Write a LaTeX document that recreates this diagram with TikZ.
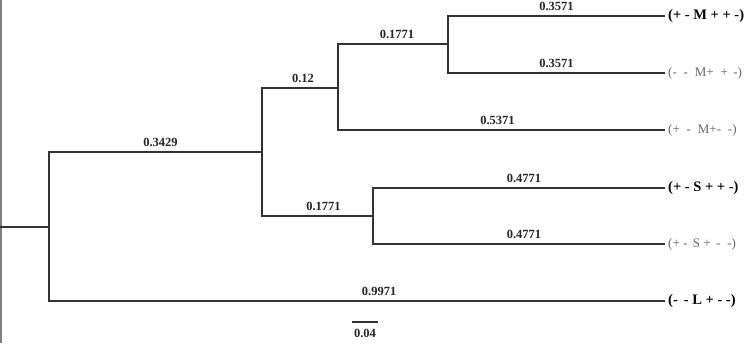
\documentclass[tikz,border=0pt]{standalone}
\usepackage{fontspec}
\setmainfont{Liberation Serif}
\begin{document}
\begin{tikzpicture}[x=1pt,y=-1pt,
  branch/.style={draw=black!80, line width=1.9pt},
  blab/.style={font=\fontsize{12.5}{13}\selectfont\bfseries, text=black!85, inner sep=1pt},
  leafbold/.style={anchor=west, inner sep=3pt, font=\fontsize{14.5}{15}\selectfont\bfseries, text=black},
  leafgray/.style={anchor=west, inner sep=3pt, font=\fontsize{13}{14}\selectfont, text=black!60}]
\useasboundingbox (0,0) rectangle (750,343);
\fill[white] (0,0) rectangle (750,343);
\draw[black!50, line width=1.5pt] (0.75,0) -- (0.75,343);
% internal nodes
\coordinate (r0) at (0,227);
\coordinate (n1) at (49,227);
\coordinate (n2) at (262,152);
\coordinate (n3) at (338,88);
\coordinate (n4) at (448,44);
\coordinate (n5) at (373,216);
% leaves
\node[leafbold] (l1) at (665,16) {(+ - M + + -)};
\node[leafgray] (l2) at (665,73) {(-\; - \;M+ \;+ \,-)};
\node[leafgray] (l3) at (665,130) {(+ \;- \;M+- \;-)};
\node[leafbold] (l4) at (665,188) {(+ - S + + -)};
\node[leafgray] (l5) at (665,244) {(+ - \,S + \,- \;-)};
\node[leafbold] (l6) at (665,301) {(- \,- L + - -)};
% branches
\draw[branch] (r0) -- (n1);
\draw[branch] (n1) |- (n2) node[blab, pos=0.75, above=3pt, xshift=5pt] {0.3429};
\draw[branch] (n2) |- (n3) node[blab, pos=0.75, above=3pt, xshift=3pt] {0.12};
\draw[branch] (n3) |- (n4) node[blab, pos=0.75, above=3pt, xshift=4pt] {0.1771};
\draw[branch] (n4) |- (l1.west) node[blab, pos=0.75, above=3pt] {0.3571};
\draw[branch] (n4) |- (l2.west) node[blab, pos=0.75, above=3pt] {0.3571};
\draw[branch] (n3) |- (l3.west) node[blab, pos=0.75, above=3pt, xshift=-4pt] {0.5371};
\draw[branch] (n2) |- (n5) node[blab, pos=0.75, above=3pt, xshift=6pt] {0.1771};
\draw[branch] (n5) |- (l4.west) node[blab, pos=0.75, above=3pt, xshift=5pt] {0.4771};
\draw[branch] (n5) |- (l5.west) node[blab, pos=0.75, above=3pt, xshift=5pt] {0.4771};
\draw[branch] (n1) |- (l6.west) node[blab, pos=0.5+0.5*0.536, above=3pt] {0.9971};
% scale bar
\coordinate (s0) at (352,322);
\coordinate (s1) at (378,322);
\draw[branch] (s0) -- (s1) node[blab, midway, below=5pt] {0.04};
\end{tikzpicture}
\end{document}
